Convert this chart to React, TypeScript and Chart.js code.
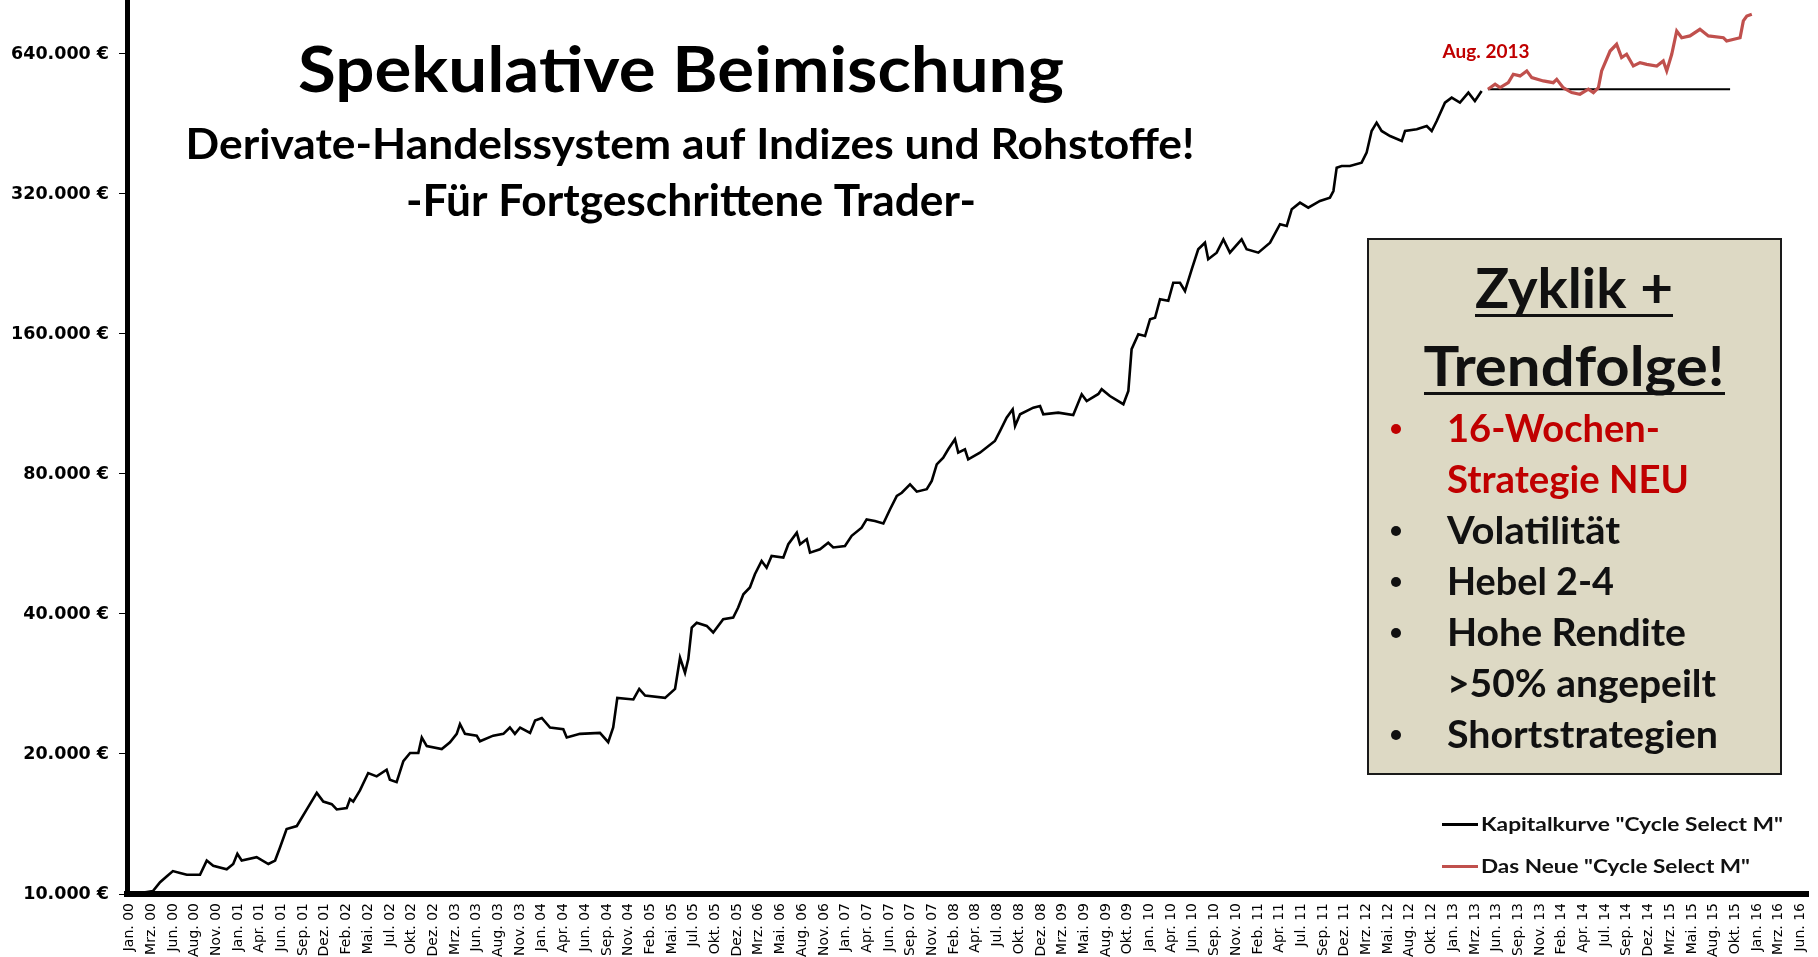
import React, { useEffect, useRef } from 'react';
import { Chart, registerables } from 'chart.js';

Chart.register(...registerables);

// ---- data ----
const xLabels = ['Jan. 00', 'Mrz. 00', 'Jun. 00', 'Aug. 00', 'Nov. 00', 'Jan. 01', 'Apr. 01', 'Jun. 01', 'Sep. 01', 'Dez. 01', 'Feb. 02', 'Mai. 02', 'Jul. 02', 'Okt. 02', 'Dez. 02', 'Mrz. 03', 'Jun. 03', 'Aug. 03', 'Nov. 03', 'Jan. 04', 'Apr. 04', 'Jun. 04', 'Sep. 04', 'Nov. 04', 'Feb. 05', 'Mai. 05', 'Jul. 05', 'Okt. 05', 'Dez. 05', 'Mrz. 06', 'Mai. 06', 'Aug. 06', 'Nov. 06', 'Jan. 07', 'Apr. 07', 'Jun. 07', 'Sep. 07', 'Nov. 07', 'Feb. 08', 'Apr. 08', 'Jul. 08', 'Okt. 08', 'Dez. 08', 'Mrz. 09', 'Mai. 09', 'Aug. 09', 'Okt. 09', 'Jan. 10', 'Apr. 10', 'Jun. 10', 'Sep. 10', 'Nov. 10', 'Feb. 11', 'Apr. 11', 'Jul. 11', 'Sep. 11', 'Dez. 11', 'Mrz. 12', 'Mai. 12', 'Aug. 12', 'Okt. 12', 'Jan. 13', 'Mrz. 13', 'Jun. 13', 'Sep. 13', 'Nov. 13', 'Feb. 14', 'Apr. 14', 'Jul. 14', 'Sep. 14', 'Dez. 14', 'Mrz. 15', 'Mai. 15', 'Aug. 15', 'Okt. 15', 'Jan. 16', 'Mrz. 16', 'Jun. 16'];

const yTickValues = [10000, 20000, 40000, 80000, 160000, 320000, 640000];

// time positions in axis-label units (0 = Jan. 00, 77 = Jun. 16)
const kapitalT = [0, 0.48, 0.8, 1.08, 1.41, 1.71, 2.0, 2.33, 2.64, 3.25, 3.56, 3.86, 4.48, 4.78, 4.97, 5.17, 5.86, 6.4, 6.71, 6.94, 7.24, 7.71, 8.17, 8.63, 8.93, 9.32, 9.55, 10.01, 10.16, 10.31, 10.62, 11.0, 11.39, 11.85, 12.0, 12.31, 12.62, 12.93, 13.31, 13.47, 13.7, 14.39, 14.77, 15.08, 15.23, 15.46, 16.0, 16.15, 16.76, 17.23, 17.53, 17.76, 18.0, 18.46, 18.69, 19.0, 19.38, 19.99, 20.15, 20.76, 21.68, 22.06, 22.29, 22.48, 23.22, 23.49, 23.76, 24.68, 25.14, 25.37, 25.6, 25.75, 25.91, 26.14, 26.6, 26.9, 27.36, 27.82, 28.05, 28.29, 28.59, 28.82, 29.13, 29.36, 29.59, 30.13, 30.36, 30.75, 30.9, 31.21, 31.36, 31.82, 32.2, 32.43, 32.97, 33.28, 33.74, 33.97, 34.35, 34.74, 35.05, 35.36, 35.59, 35.97, 36.28, 36.74, 36.97, 37.2, 37.5, 37.73, 38.04, 38.19, 38.5, 38.65, 39.19, 39.88, 40.12, 40.42, 40.7, 40.81, 41.04, 41.65, 41.96, 42.11, 42.8, 43.49, 43.88, 44.11, 44.65, 44.8, 45.18, 45.8, 46.03, 46.18, 46.49, 46.8, 47.03, 47.26, 47.49, 47.87, 48.1, 48.41, 48.64, 48.95, 49.25, 49.56, 49.71, 50.1, 50.41, 50.71, 51.25, 51.48, 52.02, 52.56, 53.02, 53.33, 53.56, 53.94, 54.32, 54.86, 55.32, 55.48, 55.63, 55.86, 56.24, 56.78, 57.01, 57.24, 57.47, 57.7, 58.09, 58.63, 58.78, 59.32, 59.78, 60.01, 60.24, 60.62, 60.93, 61.31, 61.7, 62.0, 62.31];
const kapitalEuro = [10000, 10050, 10100, 10150, 10600, 10900, 11200, 11100, 11000, 11000, 11800, 11500, 11300, 11600, 12200, 11800, 12000, 11600, 11800, 12600, 13800, 14000, 15200, 16500, 15800, 15600, 15200, 15300, 16000, 15800, 16700, 18200, 17900, 18500, 17600, 17400, 19300, 20100, 20100, 21700, 20800, 20500, 21200, 22100, 23200, 22100, 21900, 21300, 21900, 22100, 22800, 22100, 22800, 22200, 23600, 23900, 22800, 22600, 21700, 22100, 22200, 21200, 22800, 26400, 26200, 27600, 26700, 26400, 27600, 32200, 29900, 32000, 37400, 38300, 37700, 36500, 39000, 39300, 41300, 44100, 45600, 48700, 52000, 50300, 53300, 52900, 56500, 59800, 56500, 57900, 54200, 55100, 56900, 55600, 56000, 58900, 61300, 63900, 63400, 62600, 67200, 71800, 72900, 76000, 73300, 74200, 77300, 83900, 86700, 90400, 95000, 88900, 90400, 86000, 88900, 94200, 99000, 105700, 110200, 101500, 107500, 111100, 112000, 107500, 108400, 107100, 118700, 114800, 118900, 121700, 117700, 113000, 120700, 148400, 159800, 158400, 172100, 173400, 190000, 188500, 206200, 206200, 197900, 220400, 243400, 251400, 231700, 239300, 255600, 239300, 255600, 243400, 239300, 251400, 275500, 273100, 296700, 306500, 299000, 309100, 314200, 324700, 364500, 367600, 367600, 373700, 392600, 437100, 455400, 437100, 426300, 416100, 437100, 440800, 448100, 437100, 459200, 502900, 515500, 502900, 528600, 507100, 532900];

const neuT = [62.6, 62.93, 63.16, 63.54, 63.77, 64.08, 64.39, 64.62, 65.15, 65.61, 65.77, 66.07, 66.46, 66.84, 67.23, 67.46, 67.69, 67.84, 68.23, 68.53, 68.76, 68.99, 69.3, 69.61, 69.92, 70.38, 70.68, 70.84, 71.07, 71.3, 71.53, 71.91, 72.37, 72.76, 73.45, 73.6, 74.22, 74.37, 74.53, 74.76];
const neuEuro = [537500, 551000, 541600, 555200, 578900, 574100, 588500, 569300, 560000, 555200, 564500, 541600, 528600, 524300, 537500, 528600, 541600, 588500, 649400, 671400, 628700, 639000, 603000, 613100, 608000, 603000, 618200, 588500, 639000, 717200, 693600, 699800, 723100, 699800, 693600, 682600, 693600, 753700, 772200, 779100];

const referenzT = [62.6, 73.76];
const referenzEuro = [537500, 537500];

const seriesLabels = ['Kapitalkurve "Cycle Select M"', 'Das Neue "Cycle Select M"'];

const titleLines = ['Spekulative Beimischung', 'Derivate-Handelssystem auf Indizes und Rohstoffe!', '-Für Fortgeschrittene Trader-'];
const boxHeadings = ['Zyklik +', 'Trendfolge!'];
const boxBullets = [
  { text: '16-Wochen-', bullet: true, red: true },
  { text: 'Strategie NEU', bullet: false, red: true },
  { text: 'Volatilität', bullet: true, red: false },
  { text: 'Hebel 2-4', bullet: true, red: false },
  { text: 'Hohe Rendite', bullet: true, red: false },
  { text: '>50% angepeilt', bullet: false, red: false },
  { text: 'Shortstrategien', bullet: true, red: false },
];
const startLabel = 'Aug. 2013';

// ---- styles ----
const RED_TEXT = '#c00000';
const RED_LINE = '#c0504d';
const FONT = 'Lato';

const fmtEuro = (v: number) => {
  const s = Math.round(v).toString().replace(/\B(?=(\d{3})+(?!\d))/g, '.');
  return s + ' €';
};

const fitText = (ctx: CanvasRenderingContext2D, text: string, x: number, y: number, size: number, targetW: number, color: string, align: CanvasTextAlign = 'center', baseline: CanvasTextBaseline = 'alphabetic') => {
  ctx.font = `bold ${size}px ${FONT}`;
  const w = ctx.measureText(text).width;
  const k = targetW / w;
  ctx.save();
  ctx.translate(x, y);
  ctx.scale(k, 1);
  ctx.fillStyle = color;
  ctx.textAlign = align;
  ctx.textBaseline = baseline;
  ctx.fillText(text, 0, 0);
  ctx.restore();
};

const overlayPlugin = {
  id: 'overlay',
  afterDraw(chart: any) {
    const ctx: CanvasRenderingContext2D = chart.ctx;
    ctx.save();
    // titles
    fitText(ctx, titleLines[0], 681, 92, 64, 766, '#000');
    fitText(ctx, titleLines[1], 690, 159, 42, 1009, '#000');
    fitText(ctx, titleLines[2], 691, 216, 43, 570, '#000');

    // box
    ctx.fillStyle = '#ddd9c4';
    ctx.fillRect(1368, 239, 413, 535);
    ctx.strokeStyle = '#1a1a1a';
    ctx.lineWidth = 2;
    ctx.strokeRect(1368, 239, 413, 535);

    fitText(ctx, boxHeadings[0], 1574, 308, 56, 198, '#111');
    ctx.fillStyle = '#111';
    ctx.fillRect(1475, 314, 198, 3);
    fitText(ctx, boxHeadings[1], 1574, 386, 56, 301, '#111');
    ctx.fillRect(1424, 392, 301, 3);

    const baselines = [442, 493, 544, 595, 646, 697, 748];
    const widths = [213, 242, 173, 167, 239, 269, 271];
    boxBullets.forEach((b, i) => {
      const col = b.red ? RED_TEXT : '#111';
      fitText(ctx, b.text, 1447, baselines[i], 38, widths[i], col, 'left');
      if (b.bullet) {
        ctx.beginPath();
        ctx.fillStyle = col;
        ctx.arc(1396, baselines[i] - 13, 5, 0, Math.PI * 2);
        ctx.fill();
      }
    });

    // start annotation
    fitText(ctx, startLabel, 1486, 58, 18, 87, RED_TEXT);

    // legend
    const rows = [824.5, 866.5];
    const lw = [302, 269];
    chart.data.datasets.slice(0, 2).forEach((ds: any, i: number) => {
      ctx.strokeStyle = ds.borderColor;
      ctx.lineWidth = 3;
      ctx.beginPath();
      ctx.moveTo(1442, rows[i]);
      ctx.lineTo(1478, rows[i]);
      ctx.stroke();
      fitText(ctx, ds.label, 1481, rows[i], 19, lw[i], '#111', 'left', 'middle');
    });
    ctx.restore();
  },
};

const noPad = (s: any) => {
  s.paddingTop = 0;
  s.paddingBottom = 0;
  s.paddingLeft = 0;
  s.paddingRight = 0;
};

export default function App() {
  const ref = useRef<HTMLCanvasElement>(null);
  useEffect(() => {
    const toPts = (t: number[], v: number[]) => t.map((x, i) => ({ x, y: v[i] }));
    const chart = new Chart(ref.current as HTMLCanvasElement, {
      type: 'line',
      data: {
        datasets: [
          { label: seriesLabels[0], data: toPts(kapitalT, kapitalEuro), borderColor: '#000000', borderWidth: 2.6, pointRadius: 0, tension: 0, fill: false },
          { label: seriesLabels[1], data: toPts(neuT, neuEuro), borderColor: RED_LINE, borderWidth: 3.2, pointRadius: 0, tension: 0, fill: false },
          { label: 'Referenz', data: toPts(referenzT, referenzEuro), borderColor: '#000000', borderWidth: 2, pointRadius: 0, tension: 0, fill: false },
        ],
      },
      options: {
        animation: false,
        responsive: false,
        devicePixelRatio: 1,
        layout: { padding: { left: 0, right: 10, top: 0, bottom: 0 } },
        plugins: { legend: { display: false }, tooltip: { enabled: false } },
        scales: {
          x: {
            type: 'linear',
            min: -0.115,
            max: 77.35,
            afterBuildTicks: (s: any) => { s.ticks = xLabels.map((_, i) => ({ value: i })); },
            afterFit: (s: any) => { s.height = 63; noPad(s); },
            grid: { drawOnChartArea: false, drawTicks: false },
            border: { display: true, color: '#000', width: 6 },
            ticks: {
              autoSkip: false, minRotation: 90, maxRotation: 90, padding: 9, color: '#000',
              font: { family: 'DejaVu Sans', size: 14 },
              callback: (v: any) => xLabels[Math.round(Number(v))] ?? '',
            },
          },
          y: {
            type: 'logarithmic',
            min: 10000,
            max: 836000,
            afterBuildTicks: (s: any) => { s.ticks = yTickValues.map((v) => ({ value: v })); },
            afterFit: (s: any) => { s.width = 127; noPad(s); },
            grid: { drawOnChartArea: false, drawTicks: true, tickLength: 8, color: '#000' },
            border: { display: true, color: '#000', width: 5 },
            ticks: {
              padding: 10, color: '#000',
              font: { family: 'DejaVu Sans', size: 17.5, weight: 'bold' },
              callback: (v: any) => fmtEuro(Number(v)),
            },
          },
        },
      } as any,
      plugins: [overlayPlugin],
    });
    return () => chart.destroy();
  }, []);
  return (
    <div style={{ position: 'fixed', left: 0, top: 0, width: 1818, height: 957, background: '#fff' }}>
      <canvas ref={ref} width={1818} height={957} style={{ display: 'block', width: 1818, height: 957 }} />
    </div>
  );
}
